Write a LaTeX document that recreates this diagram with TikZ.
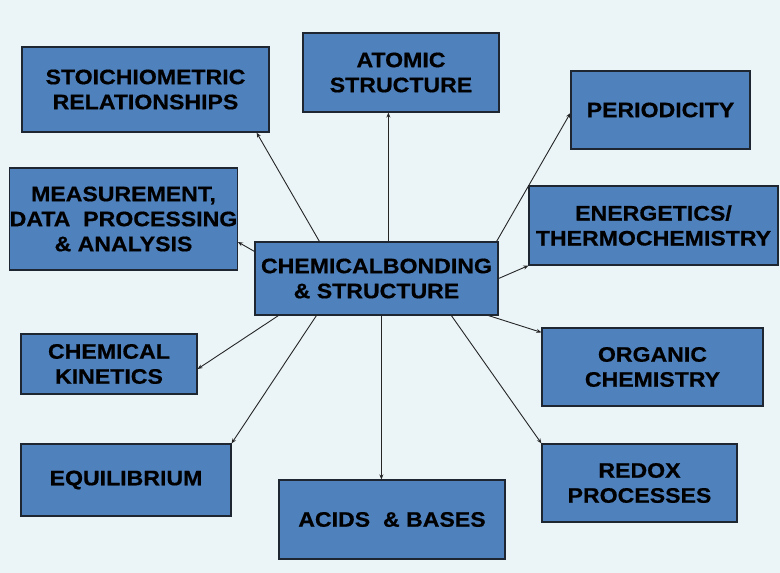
\documentclass[tikz,border=0pt]{standalone}
\usepackage{fontspec}
\setmainfont{Liberation Sans}[FakeStretch=1.1]
\usetikzlibrary{arrows.meta}
\definecolor{bgblue}{RGB}{235,245,248}
\definecolor{boxblue}{RGB}{79,129,189}
\definecolor{boxline}{RGB}{30,38,50}
\tikzset{
  topic/.style={draw=boxline, line width=1.2pt, fill=boxblue, inner sep=0pt, align=center,
    font=\fontsize{21}{25}\selectfont\bfseries\addfontfeature{FakeBold=0.6}},
  link/.style={-{Stealth[length=5pt,width=4pt]}, line width=0.9pt, draw=black!85}
}
\begin{document}
\begin{tikzpicture}[x=1pt,y=-1pt]
\fill[bgblue] (0,0) rectangle (780,573);
\useasboundingbox (0,0) rectangle (780,573);
% topics
\node[topic, minimum width=243pt, minimum height=73pt] (cb) at (376.5,278.5) {CHEMICALBONDING\\\& STRUCTURE};
\node[topic, minimum width=247pt, minimum height=85pt] (st) at (145.5,89.5) {STOICHIOMETRIC\\RELATIONSHIPS};
\node[topic, minimum width=196pt, minimum height=79pt] (at) at (401,72.5) {ATOMIC\\STRUCTURE};
\node[topic, minimum width=179pt, minimum height=78pt] (pe) at (660.5,110) {PERIODICITY};
\node[topic, minimum width=227pt, minimum height=102pt] (me) at (123.5,219) {MEASUREMENT,\\DATA\ \ PROCESSING\\\& ANALYSIS};
\node[topic, minimum width=249pt, minimum height=79pt] (en) at (653.5,225.5) {ENERGETICS/\\THERMOCHEMISTRY};
\node[topic, minimum width=176pt, minimum height=60pt] (ki) at (109,364) {CHEMICAL\\KINETICS};
\node[topic, minimum width=221pt, minimum height=78pt] (or) at (652.5,367) {ORGANIC\\CHEMISTRY};
\node[topic, minimum width=210pt, minimum height=72pt] (eq) at (126,480) {EQUILIBRIUM};
\node[topic, minimum width=226pt, minimum height=79pt] (ac) at (392,519.5) {ACIDS\ \ \& BASES};
\node[topic, minimum width=195pt, minimum height=78pt] (re) at (639.5,483) {REDOX\\PROCESSES};
% links
\draw[link] ([xshift=65pt]cb.north west) -- ([xshift=-13pt]st.south east);
\draw[link] ([xshift=134pt]cb.north west) -- ([xshift=86pt]at.south west);
\draw[link] ([xshift=-2pt]cb.north east) -- ([yshift=-3pt]pe.west);
\draw[link] (cb.east) -- (en.south west);
\draw[link] ([yshift=-10pt]cb.north west) -- ([yshift=-23pt]me.east);
\draw[link] ([xshift=-10pt]cb.south east) -- ([yshift=-5pt]or.north west);
\draw[link] ([xshift=197pt]cb.south west) -- (re.north west);
\draw[link] ([xshift=127pt]cb.south west) -- ([xshift=103pt]ac.north west);
\draw[link] ([xshift=62pt]cb.south west) -- (eq.north east);
\draw[link] ([xshift=24pt]cb.south west) -- ([yshift=-5pt]ki.east);
\end{tikzpicture}
\end{document}
